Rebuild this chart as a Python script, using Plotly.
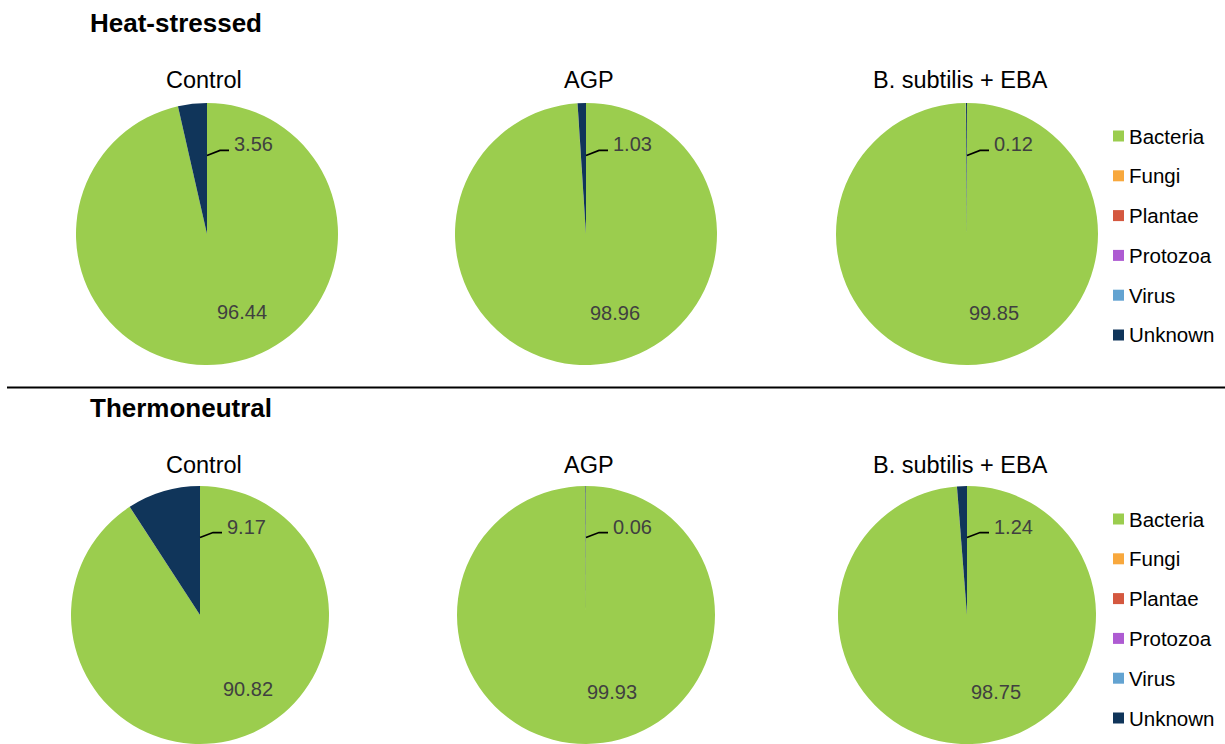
import math
import plotly.graph_objects as go

# ---- data -------------------------------------------------------------
categories = ["Bacteria", "Fungi", "Plantae", "Protozoa", "Virus", "Unknown"]
colors = ["#9BCD4E", "#F8A83D", "#D4583F", "#AE5BD2", "#63A3D1", "#10355A"]

groups = ["Heat-stressed", "Thermoneutral"]
treatments = ["Control", "AGP", "B. subtilis + EBA"]

# relative abundance (%) by kingdom, order as in `categories`
hs_control = [96.44, 0.00, 0.00, 0.00, 0.00, 3.56]
hs_agp = [98.96, 0.01, 0.00, 0.00, 0.00, 1.03]
hs_bsub = [99.85, 0.01, 0.00, 0.00, 0.02, 0.12]
tn_control = [90.82, 0.01, 0.00, 0.00, 0.00, 9.17]
tn_agp = [99.93, 0.01, 0.00, 0.00, 0.00, 0.06]
tn_bsub = [98.75, 0.01, 0.00, 0.00, 0.00, 1.24]

rows = [[hs_control, hs_agp, hs_bsub], [tn_control, tn_agp, tn_bsub]]

# ---- layout (pixels) --------------------------------------------------
W, H = 1225, 744
FONT = "Liberation Sans, Arial, sans-serif"
row_cy = [234, 617]
col_cx = [[207, 586, 967], [200, 586, 967]]
radius = 131
title_x = [204, 589, 960]
title_y = [80, 465]
header_y = [23, 408]
rule_y = 387.5


def px(x):
    return x / W


def py(y):
    return 1 - y / H


fig = go.Figure()
shapes = []
annotations = []

for g, group in enumerate(groups):
    for t, treatment in enumerate(treatments):
        values = rows[g][t]
        cx, cy = col_cx[g][t], row_cy[g]
        y_top, y_bot = cy - radius, min(cy + radius, H)
        dom_x = [px(cx - radius), px(cx + radius)]
        dom_y = [py(y_bot), py(y_top)]
        fig.add_trace(go.Pie(
            labels=categories,
            values=values,
            marker=dict(colors=colors, line=dict(width=0)),
            sort=False,
            direction="clockwise",
            rotation=0,
            textinfo="none",
            hoverinfo="label+value",
            showlegend=False,
            domain=dict(x=dom_x, y=dom_y),
        ))

        # actual pie geometry as plotly lays it out
        r = min(2 * radius, y_bot - y_top) / 2
        pcy = y_top + r

        # treatment title
        annotations.append(dict(
            x=px(title_x[t]), y=py(title_y[g]), text=treatment,
            showarrow=False, xanchor="center", yanchor="middle",
            font=dict(size=23.5, color="#000000", family=FONT)))

        # Bacteria value inside its slice, near the bisector
        total = sum(values)
        theta = math.radians(values[0] / total * 360 / 2)
        bx = cx + 0.6 * r * math.sin(theta) + 0.2 * r
        by = pcy - 0.6 * r * math.cos(theta)
        annotations.append(dict(
            x=px(bx), y=py(by), text=f"{values[0]:.2f}",
            showarrow=False, xanchor="center", yanchor="middle",
            font=dict(size=20, color="#404040", family=FONT)))

        # Unknown value with a bent leader line from the slice edge
        sx, sy = cx, pcy - 0.6 * r
        kx, ky = cx + 13, sy - 5
        ex = cx + 22
        shapes.append(dict(
            type="path", xref="paper", yref="paper",
            path=f"M {px(sx)} {py(sy)} L {px(kx)} {py(ky)} L {px(ex)} {py(ky)}",
            line=dict(color="#000000", width=1.6)))
        annotations.append(dict(
            x=px(ex + 3), y=py(ky - 6), text=f"{values[-1]:.2f}",
            showarrow=False, xanchor="left", yanchor="middle",
            font=dict(size=20, color="#404040", family=FONT)))

    # group header
    annotations.append(dict(
        x=px(88), y=py(header_y[g]), text=f"<b>{group}</b>",
        showarrow=False, xanchor="left", yanchor="middle",
        font=dict(size=26, color="#000000", family=FONT)))

    # legend for the row
    for i, (cat, col) in enumerate(zip(categories, colors)):
        ly = row_cy[g] - 98 + i * 39.8
        shapes.append(dict(
            type="rect", xref="paper", yref="paper",
            x0=px(1113), x1=px(1124), y0=py(ly + 5.5), y1=py(ly - 5.5),
            fillcolor=col, line=dict(width=0)))
        annotations.append(dict(
            x=px(1127), y=py(ly), text=cat,
            showarrow=False, xanchor="left", yanchor="middle",
            font=dict(size=20.5, color="#000000", family=FONT)))

# separator between the two groups
shapes.append(dict(
    type="line", xref="paper", yref="paper",
    x0=px(7), x1=px(W), y0=py(rule_y), y1=py(rule_y),
    line=dict(color="#000000", width=2)))

fig.update_layout(
    width=W, height=H,
    margin=dict(l=0, r=0, t=0, b=0),
    paper_bgcolor="#FFFFFF",
    plot_bgcolor="#FFFFFF",
    showlegend=False,
    shapes=shapes,
    annotations=annotations,
    font=dict(family=FONT),
)

fig.write_html("out.html")
